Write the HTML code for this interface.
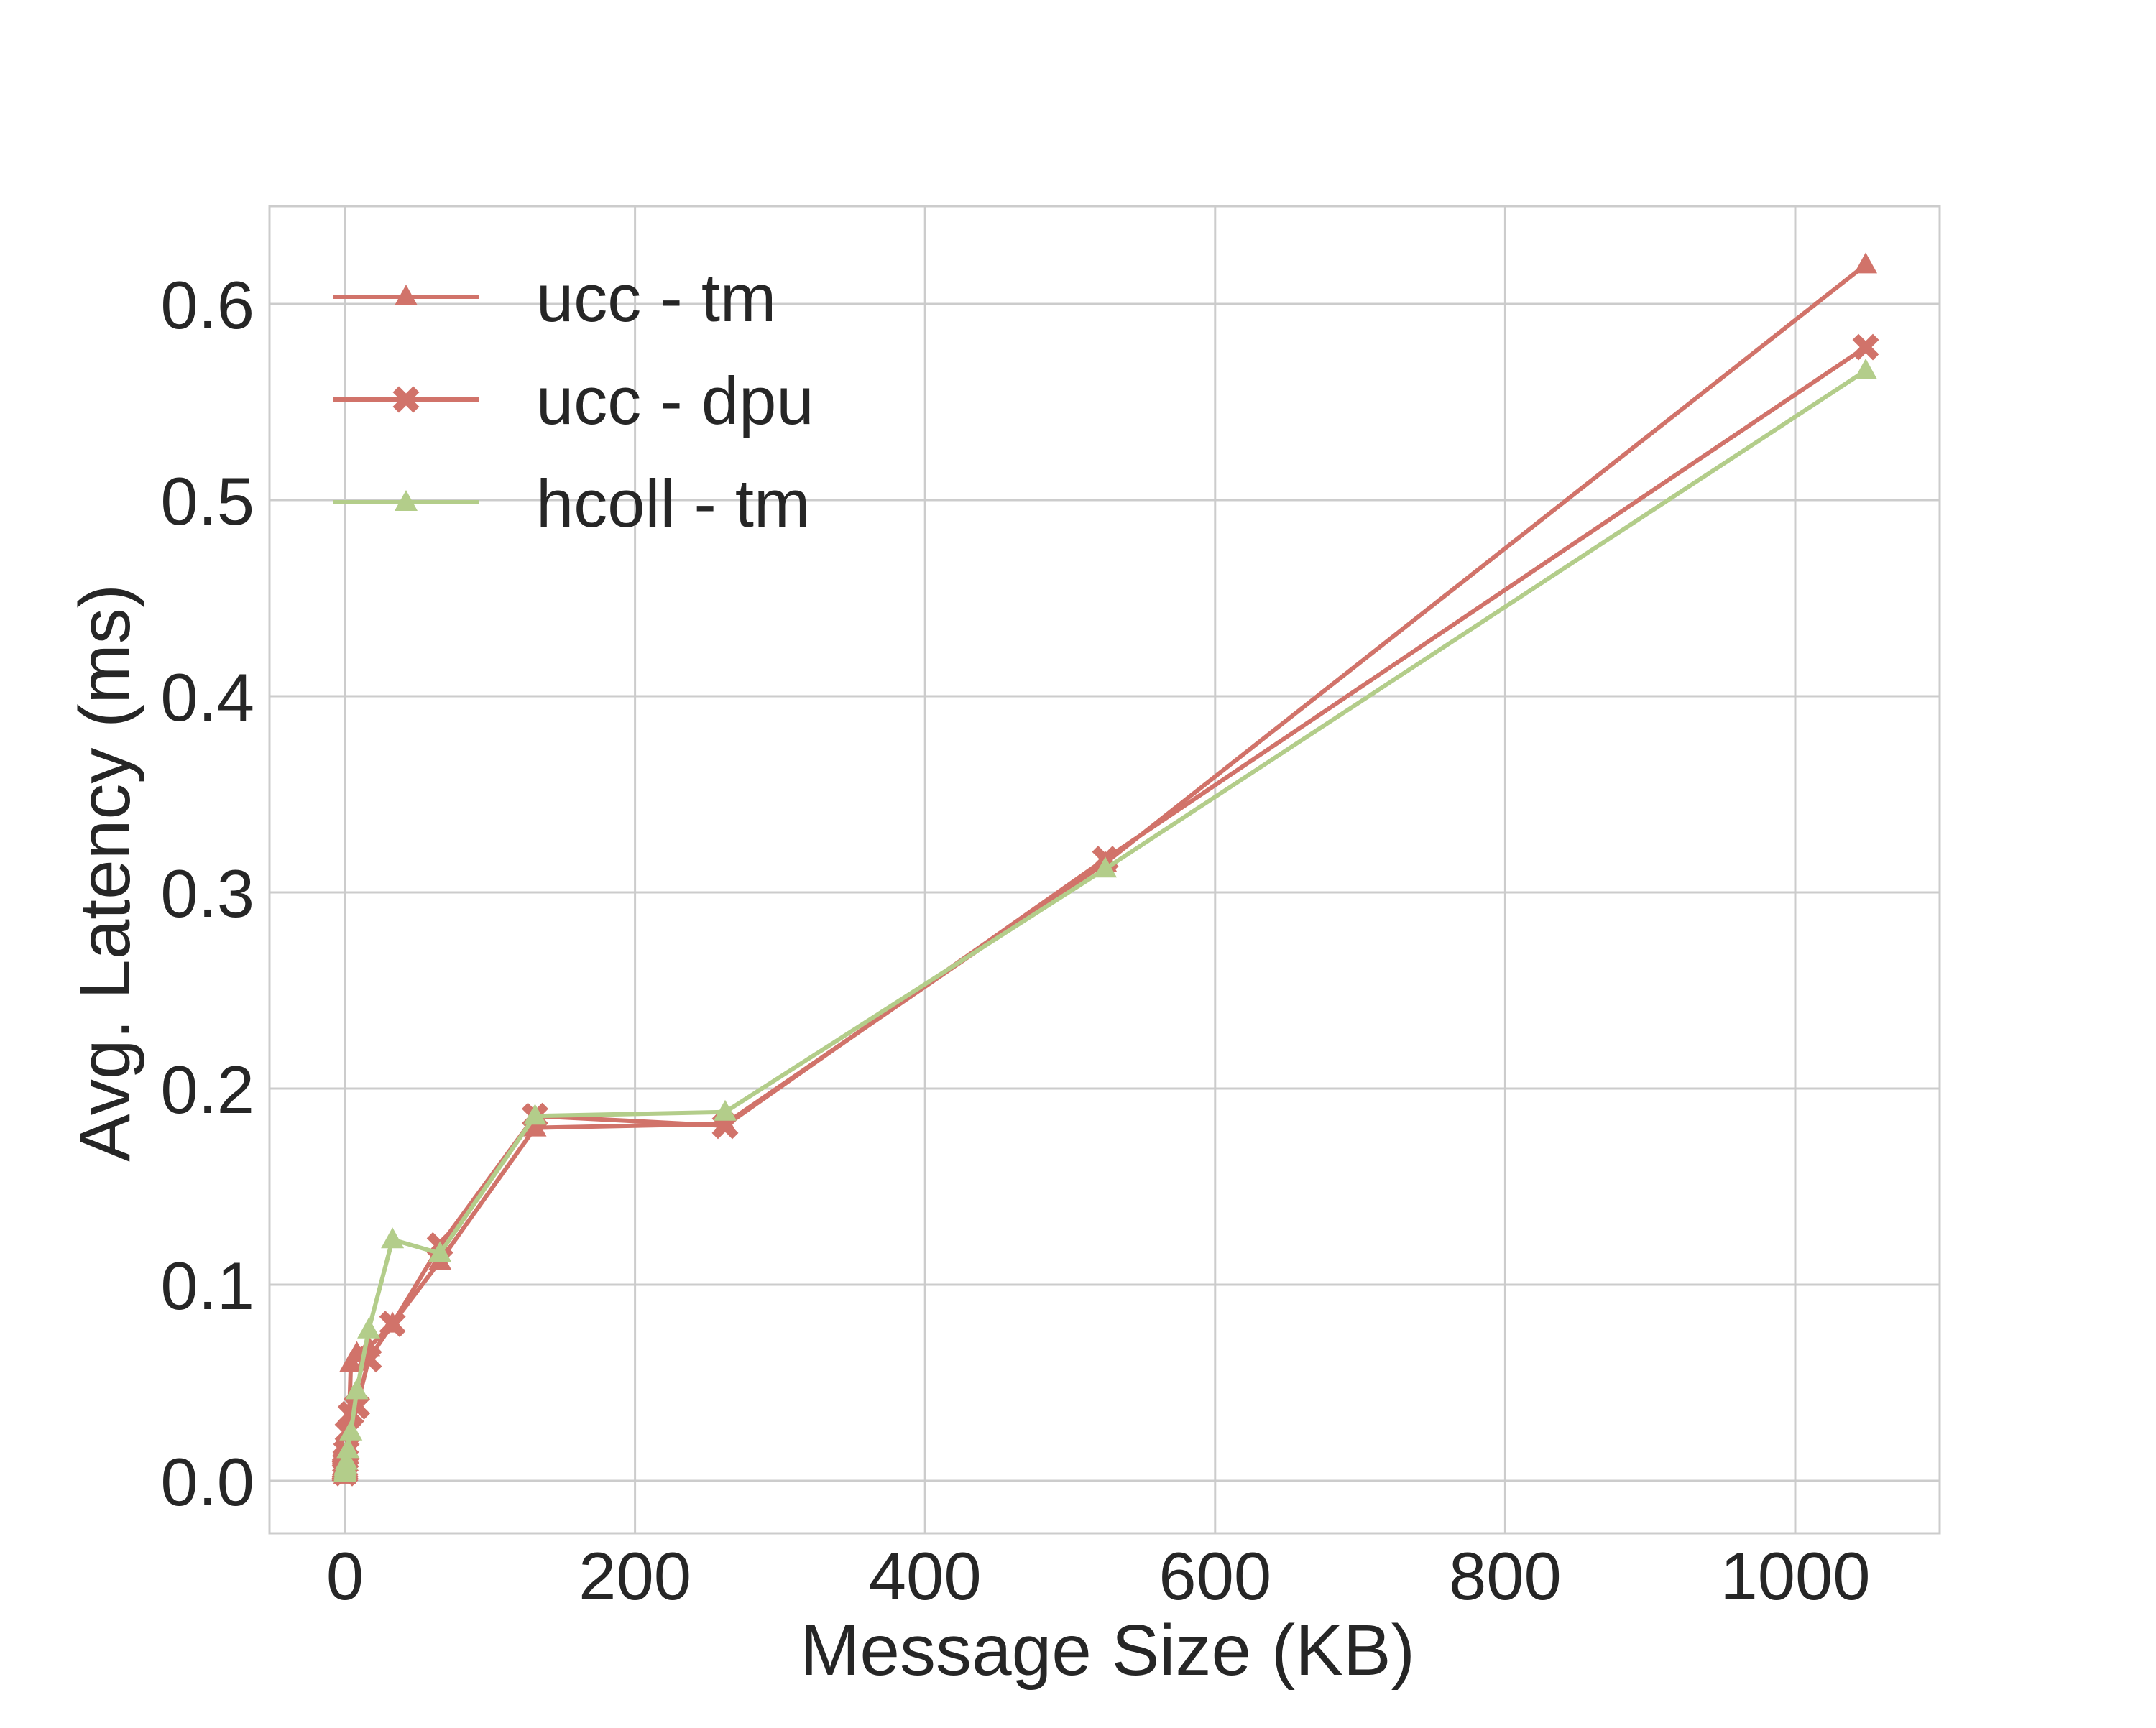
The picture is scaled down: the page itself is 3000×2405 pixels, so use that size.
<!DOCTYPE html>
<html><head><meta charset="utf-8"><style>
html,body{margin:0;padding:0;background:#fff;}
svg text{font-family:"Liberation Sans",Arial,sans-serif;fill:#262626;}
</style></head><body>
<svg id="chart" width="3000" height="2400" viewBox="0 0 3000 2400" xmlns="http://www.w3.org/2000/svg">
<rect width="3000" height="2400" fill="#fff"/>
<g id="grid"></g>
<g id="ticks"></g>
<g id="series"></g>
<rect x="375" y="287" width="2324" height="1847" fill="none" stroke="#cccccc" stroke-width="3"/>
<text x="1541" y="2331" font-size="100" text-anchor="middle">Message Size (KB)</text>
<text transform="translate(180,1215) rotate(-90)" font-size="100" text-anchor="middle">Avg. Latency (ms)</text>
<g id="legend"></g>
</svg>
<script>
const xValues = [0.004,0.008,0.016,0.032,0.064,0.128,0.256,0.512,1.024,2.048,4.096,8.192,16.384,32.768,65.536,131.072,262.144,524.288,1048.576];
const uccTm  = [0.003,0.003,0.003,0.004,0.004,0.005,0.006,0.008,0.010,0.013,0.060,0.065,0.068,0.080,0.112,0.180,0.182,0.315,0.620];
const uccDpu = [0.004,0.004,0.005,0.005,0.006,0.007,0.009,0.011,0.015,0.025,0.034,0.038,0.062,0.080,0.120,0.186,0.181,0.317,0.578];
const hcoll  = [0.004,0.004,0.004,0.005,0.005,0.006,0.007,0.008,0.010,0.016,0.025,0.046,0.077,0.123,0.116,0.186,0.188,0.312,0.566];
const xTicks = [0,200,400,600,800,1000];
const yTicks = [0.0,0.1,0.2,0.3,0.4,0.5,0.6];
const seriesNames = ["ucc - tm","ucc - dpu","hcoll - tm"];

const NS="http://www.w3.org/2000/svg";
const L=375,R=2699,T=287,B=2134;
function xs(v){return 480+v*2.018;}
function ys(v){return 2061-v*2730;}
function mk(tag,attrs,parent){const e=document.createElementNS(NS,tag);for(const k in attrs)e.setAttribute(k,attrs[k]);parent.appendChild(e);return e;}
const grid=document.getElementById('grid'),ticks=document.getElementById('ticks'),ser=document.getElementById('series'),leg=document.getElementById('legend');
xTicks.forEach(t=>{
  const l=mk('line',{x1:xs(t),x2:xs(t),y1:T,y2:B,stroke:'#cccccc','stroke-width':3},grid);
  
  
  const tx=mk('text',{x:xs(t),y:2226,'font-size':94,'text-anchor':'middle'},ticks);
  tx.textContent=t;
  
  
});
yTicks.forEach(t=>{
  const l=mk('line',{x1:L,x2:R,y1:ys(t),y2:ys(t),stroke:'#cccccc','stroke-width':3},grid);
  
  
  const tx=mk('text',{x:354,y:ys(t)+34,'font-size':94,'text-anchor':'end'},ticks);
  tx.textContent=t.toFixed(1);
  
  
});
function marker(type,x,y,color,parent){
  let e;
  if(type==='tri'){e=mk('polygon',{points:`${x},${y-17} ${x-16},${y+12} ${x+16},${y+12}`,fill:color},parent);}
  else{const s=10;e=mk('path',{d:`M${x-s} ${y-s}L${x+s} ${y+s}M${x-s} ${y+s}L${x+s} ${y-s}`,stroke:color,'stroke-width':12,'stroke-linecap':'square'},parent);}
  return e;
}
const defs=[[uccTm,'#d1736a','tri'],[uccDpu,'#d1736a','x'],[hcoll,'#b3cd8a','tri']];
defs.forEach((d,i)=>{
  const g=mk('g',{},ser);
  
  
  const pts=d[0].map((v,j)=>xs(xValues[j])+','+ys(v)).join(' ');
  mk('polyline',{points:pts,fill:'none',stroke:d[1],'stroke-width':6,'stroke-linejoin':'round'},g);
  d[0].forEach((v,j)=>{
    const m=marker(d[2],xs(xValues[j]),ys(v),d[1],g);
    
    
  });
  const ly=413+i*143;
  const lg=mk('g',{},leg);
  
  
  mk('line',{x1:463,x2:666,y1:ly,y2:ly,stroke:d[1],'stroke-width':6},lg);
  marker(d[2],565,ly,d[1],lg);
  const t=mk('text',{x:746,y:ly+34,'font-size':94},lg);
  t.textContent=seriesNames[i];
});
</script>
</body></html>
